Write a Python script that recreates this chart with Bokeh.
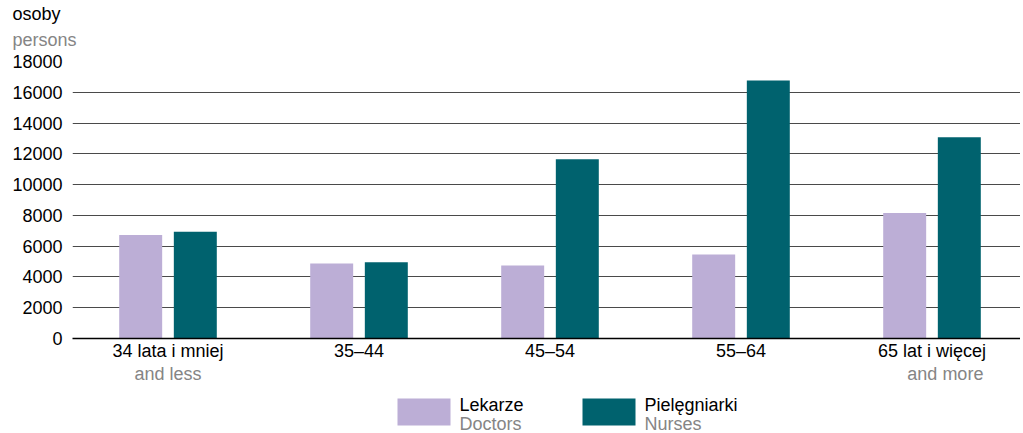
from bokeh.plotting import figure
from bokeh.models import (ColumnDataSource, Range1d, FixedTicker, LinearAxis, Title,
                          NumeralTickFormatter)
from bokeh.core.properties import value
from bokeh.layouts import column
from bokeh.transform import dodge
from bokeh.embed import file_html
from bokeh.resources import INLINE

# ---- data ----
categories = ["34 lata i mniej", "35–44", "45–54", "55–64", "65 lat i więcej"]
categories_en = {0: "and less", 4: "and more"}
doctors = [6720, 4870, 4750, 5460, 8150]
nurses = [6940, 4960, 11650, 16770, 13080]
y_ticks = [0, 2000, 4000, 6000, 8000, 10000, 12000, 14000, 16000, 18000]
series_pl = ["Lekarze", "Pielęgniarki"]
series_en = ["Doctors", "Nurses"]
y_title_pl = "osoby"
y_title_en = "persons"

# ---- style ----
FONT = "Liberation Sans"
FS = "18px"
C_DOC = "#bcaed6"
C_NUR = "#00626e"
GRAY = "#858585"
W = 1020
H_MAIN, H_LEG = 390, 43
LEFT, TOP = 72, 61
FRAME_BOTTOM = 338
UNIT_PX = 191.0
x_end = (W - LEFT) / UNIT_PX

xs = [i + 0.5 for i in range(len(categories))]
src = ColumnDataSource(dict(x=xs, doctors=doctors, nurses=nurses))

p = figure(width=W, height=H_MAIN, x_range=Range1d(0, x_end), y_range=Range1d(0, y_ticks[-1]),
           output_backend="svg", toolbar_location=None, title_location=None,
           min_border_left=LEFT, min_border_right=0, min_border_top=TOP,
           min_border_bottom=H_MAIN - FRAME_BOTTOM)
p.outline_line_color = None

r1 = p.vbar(x=dodge("x", -0.143), top="doctors", width=0.225, source=src,
            fill_color=C_DOC, line_color=None)
r2 = p.vbar(x=dodge("x", 0.143), top="nurses", width=0.225, source=src,
            fill_color=C_NUR, line_color=None)

# grid
p.xgrid.visible = False
p.ygrid.ticker = FixedTicker(ticks=y_ticks)
p.ygrid.grid_line_color = "#4a4a4a"
p.ygrid.grid_line_width = 1

# y axis
p.yaxis.ticker = FixedTicker(ticks=y_ticks)
p.yaxis.formatter = NumeralTickFormatter(format="0")
p.yaxis.axis_line_color = None
p.yaxis.major_tick_out = 0
p.yaxis.major_tick_in = 0
p.yaxis.minor_tick_out = 0
p.yaxis.minor_tick_in = 0
p.yaxis.major_label_standoff = 10
p.yaxis.major_label_text_font = FONT
p.yaxis.major_label_text_font_size = FS
p.yaxis.major_label_text_color = "#000000"

# x axis (Polish labels)
p.xaxis.ticker = FixedTicker(ticks=xs)
p.xaxis.major_label_overrides = {x: c for x, c in zip(xs, categories)}
p.xaxis.axis_line_color = "#000000"
p.xaxis.axis_line_width = 1.5
p.xaxis.major_tick_out = 0
p.xaxis.major_tick_in = 0
p.xaxis.minor_tick_out = 0
p.xaxis.minor_tick_in = 0
p.xaxis.major_label_standoff = 2
p.xaxis.major_label_text_font = FONT
p.xaxis.major_label_text_font_size = FS
p.xaxis.major_label_text_color = "#000000"

# second x axis (English second line), "and more" shifted slightly right
en_shift = {0: 0.0, 4: 0.07}
en_ticks = [xs[i] + en_shift[i] for i in categories_en]
ax_en = LinearAxis(ticker=FixedTicker(ticks=en_ticks),
                   major_label_overrides={t: categories_en[i] for t, i in zip(en_ticks, categories_en)},
                   axis_line_color=None, major_tick_out=0, major_tick_in=0,
                   minor_tick_out=0, minor_tick_in=0, major_label_standoff=0,
                   major_label_text_font=FONT, major_label_text_font_size=FS,
                   major_label_text_color=GRAY)
p.add_layout(ax_en, "below")

# y titles (nearest to frame first)
p.add_layout(Title(text=y_title_en, align="left", offset=-60, standoff=24,
                   text_font=FONT, text_font_size=FS, text_font_style="normal",
                   text_color=GRAY), "above")
p.add_layout(Title(text=y_title_pl, align="left", offset=-60, standoff=-16,
                   text_font=FONT, text_font_size=FS, text_font_style="normal",
                   text_color="#000000"), "above")

# ---- legend strip (pixel coordinates, frame aligned with main chart) ----
leg = figure(width=W, height=H_LEG, x_range=Range1d(LEFT, W), y_range=Range1d(H_LEG, 0),
             output_backend="svg", toolbar_location=None, title_location=None,
             min_border=0, min_border_left=LEFT, x_axis_location=None, y_axis_location=None)
leg.outline_line_color = None
leg.grid.visible = False

sw_left = [397, 582]
sw_w, sw_top, sw_h = 53, 8, 27
leg.quad(left=sw_left, right=[l + sw_w for l in sw_left], top=[sw_top] * 2,
         bottom=[sw_top + sw_h] * 2, fill_color=[C_DOC, C_NUR], line_color=None)
tx = [l + sw_w + 9 for l in sw_left]
leg.text(x=tx, y=[14] * 2, text=series_pl, text_font=value(FONT), text_font_size=FS,
         text_color="#000000", text_baseline="alphabetic", text_align="left")
leg.text(x=tx, y=[33] * 2, text=series_en, text_font=value(FONT), text_font_size=FS,
         text_color=GRAY, text_baseline="alphabetic", text_align="left")

layout = column(p, leg, spacing=0)
open("out.html", "w").write(file_html(layout, INLINE))
